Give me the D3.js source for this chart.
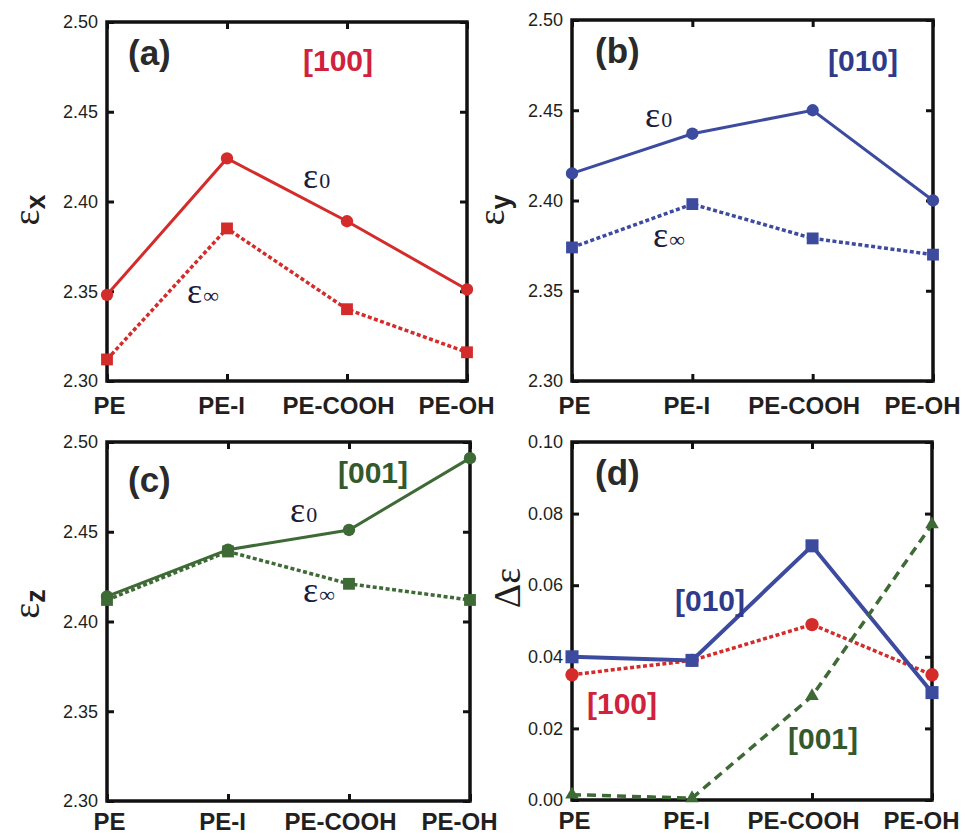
<!DOCTYPE html>
<html>
<head>
<meta charset="utf-8">
<script src="https://cdn.jsdelivr.net/npm/d3@7"></script>
<style>
  body { margin: 0; background: #fff; }
  .axis text { font-family: "Liberation Sans", Arial, sans-serif; fill: #231f20; }
  .axis line { stroke: #111; stroke-width: 3; }
  .axis path { display: none; }
</style>
</head>
<body>
<svg id="chart" width="965" height="834"></svg>
<script>
// values
var categories = ["PE", "PE-I", "PE-COOH", "PE-OH"];

var epsX0   = [2.348, 2.424, 2.389, 2.351];
var epsXinf = [2.312, 2.385, 2.340, 2.316];
var epsY0   = [2.415, 2.437, 2.450, 2.400];
var epsYinf = [2.374, 2.398, 2.379, 2.370];
var epsZ0   = [2.414, 2.440, 2.451, 2.491];
var epsZinf = [2.412, 2.439, 2.421, 2.412];

var dEps100 = [0.035, 0.039, 0.049, 0.035];
var dEps010 = [0.040, 0.039, 0.071, 0.030];
var dEps001 = [0.0015, 0.0005, 0.029, 0.077];

var epsTicks  = [2.30, 2.35, 2.40, 2.45, 2.50];
var dEpsTicks = [0.00, 0.02, 0.04, 0.06, 0.08, 0.10];

var RED = "#d42b2b", BLUE = "#3d4b9f", GREEN = "#3e6a36";
var RED_T = "#d0223c", BLUE_T = "#2f3a8a", GREEN_T = "#33592d";
var INK = "#231f20", NAVY = "#1c1c3c";

// category labels sit a little left of their ticks in the original
var labelShift = [2, -6, -9, -11];

var svg = d3.select("#chart");

function drawPanel(cfg) {
	var g = svg.append("g").attr("transform", "translate(" + cfg.left + "," + cfg.top + ")");
	var x = d3.scalePoint().domain(categories).range([0, cfg.width]);
	var y = d3.scaleLinear().domain(cfg.domain).range([cfg.height, 0]);

	g.append("g").attr("class", "axis")
		.call(d3.axisLeft(y).tickValues(cfg.ticks).tickFormat(d3.format(".2f"))
			.tickSizeInner(-7).tickSizeOuter(0).tickPadding(9))
		.selectAll("text").style("font-size", "18px");
	g.append("g").attr("class", "axis").attr("transform", "translate(" + cfg.width + ",0)")
		.call(d3.axisRight(y).tickValues(cfg.ticks).tickFormat("").tickSizeInner(-7).tickSizeOuter(0));
	g.append("g").attr("class", "axis").attr("transform", "translate(0," + cfg.height + ")")
		.call(d3.axisBottom(x).tickSizeInner(-7).tickSizeOuter(0).tickPadding(cfg.labelPad))
		.selectAll("text")
		.style("font-size", "24px").style("font-weight", "bold")
		.attr("dx", function(d, i) { return labelShift[i]; });
	g.append("g").attr("class", "axis")
		.call(d3.axisTop(x).tickFormat("").tickSizeInner(-7).tickSizeOuter(0));

	g.append("rect")
		.attr("width", cfg.width).attr("height", cfg.height)
		.attr("fill", "none").attr("stroke", "#111").attr("stroke-width", 3.5);

	var line = d3.line()
		.x(function(d, i) { return x(categories[i]); })
		.y(function(d) { return y(d); });

	cfg.series.forEach(function(s) {
		g.append("path").datum(s.values)
			.attr("d", line)
			.attr("fill", "none")
			.attr("stroke", s.color)
			.attr("stroke-width", s.width)
			.attr("stroke-dasharray", s.dash || null);
	});
	cfg.series.forEach(function(s) {
		g.selectAll(null).data(s.values).enter().append("path")
			.attr("transform", function(d, i) { return "translate(" + x(categories[i]) + "," + y(d) + ")"; })
			.attr("d", d3.symbol().type(s.symbol).size(s.size))
			.attr("fill", s.color);
	});

	// panel tag
	g.append("text").attr("x", cfg.tag[1]).attr("y", cfg.tag[2])
		.attr("font-family", "Liberation Sans, Arial, sans-serif")
		.attr("font-weight", "bold").attr("font-size", 35).attr("fill", "#2a2a2a")
		.text(cfg.tag[0]);

	// axis title, rotated
	var t = g.append("text")
		.attr("transform", "translate(" + cfg.title.x + "," + cfg.title.y + ") rotate(-90)")
		.attr("text-anchor", "middle").attr("fill", INK);
	t.append("tspan").attr("font-family", "Liberation Serif, Times New Roman, serif")
		.attr("font-size", 38).text(cfg.title.main);
	if (cfg.title.sub) {
		t.append("tspan").attr("font-family", "Liberation Sans, Arial, sans-serif")
			.attr("font-weight", "bold").attr("font-size", 27).attr("dy", 6).text(cfg.title.sub);
	}

	(cfg.notes || []).forEach(function(n) {
		if (n.kind === "eps") {
			var e = g.append("text").attr("x", n.x).attr("y", n.y).attr("fill", NAVY)
				.attr("font-family", "Liberation Serif, Times New Roman, serif");
			e.append("tspan").attr("font-size", 36).text("ε");
			e.append("tspan").attr("font-size", 22).attr("dx", 1).text(n.sub);
		} else {
			g.append("text").attr("x", n.x).attr("y", n.y).attr("fill", n.color)
				.attr("font-family", "Liberation Sans, Arial, sans-serif")
				.attr("font-weight", "bold").attr("font-size", 30).text(n.text);
		}
	});
}

drawPanel({
	left: 107, top: 22, width: 360, height: 359, labelPad: 16,
	domain: [2.30, 2.50], ticks: epsTicks,
	tag: ["(a)", 21, 43],
	title: { x: -68, y: 188, main: "ε", sub: "x" },
	series: [
		{ values: epsX0, color: RED, width: 3, symbol: d3.symbolCircle, size: 120 },
		{ values: epsXinf, color: RED, width: 3.5, dash: "4,2.5", symbol: d3.symbolSquare, size: 140 }
	],
	notes: [
		{ text: "[100]", x: 196, y: 49, color: RED_T },
		{ kind: "eps", sub: "0", x: 196, y: 166 },
		{ kind: "eps", sub: "∞", x: 80, y: 281 }
	]
});

drawPanel({
	left: 572, top: 20, width: 361, height: 361, labelPad: 16,
	domain: [2.30, 2.50], ticks: epsTicks,
	tag: ["(b)", 23, 43],
	title: { x: -68, y: 190, main: "ε", sub: "y" },
	series: [
		{ values: epsY0, color: BLUE, width: 3, symbol: d3.symbolCircle, size: 120 },
		{ values: epsYinf, color: BLUE, width: 3.5, dash: "4,2.5", symbol: d3.symbolSquare, size: 140 }
	],
	notes: [
		{ text: "[010]", x: 256, y: 51, color: BLUE_T },
		{ kind: "eps", sub: "0", x: 73, y: 107 },
		{ kind: "eps", sub: "∞", x: 81, y: 227 }
	]
});

drawPanel({
	left: 107, top: 442, width: 363, height: 359, labelPad: 12,
	domain: [2.30, 2.50], ticks: epsTicks,
	tag: ["(c)", 21, 50],
	title: { x: -68, y: 162, main: "ε", sub: "z" },
	series: [
		{ values: epsZ0, color: GREEN, width: 3, symbol: d3.symbolCircle, size: 120 },
		{ values: epsZinf, color: GREEN, width: 3.5, dash: "4,2.5", symbol: d3.symbolSquare, size: 140 }
	],
	notes: [
		{ text: "[001]", x: 231, y: 41, color: GREEN_T },
		{ kind: "eps", sub: "0", x: 183, y: 80 },
		{ kind: "eps", sub: "∞", x: 196, y: 160 }
	]
});

drawPanel({
	left: 572, top: 442, width: 360, height: 358, labelPad: 12,
	domain: [0, 0.10], ticks: dEpsTicks,
	tag: ["(d)", 23, 43],
	title: { x: -52, y: 146, main: "Δε" },
	series: [
		{ values: dEps100, color: RED, width: 3.5, dash: "4,2.5", symbol: d3.symbolCircle, size: 140 },
		{ values: dEps010, color: BLUE, width: 4, symbol: d3.symbolSquare, size: 170 },
		{ values: dEps001, color: GREEN, width: 3.5, dash: "9,6", symbol: d3.symbolTriangle, size: 80 }
	],
	notes: [
		{ text: "[010]", x: 103, y: 169, color: BLUE_T },
		{ text: "[100]", x: 15, y: 272, color: RED_T },
		{ text: "[001]", x: 216, y: 307, color: GREEN_T }
	]
});
</script>
</body>
</html>
